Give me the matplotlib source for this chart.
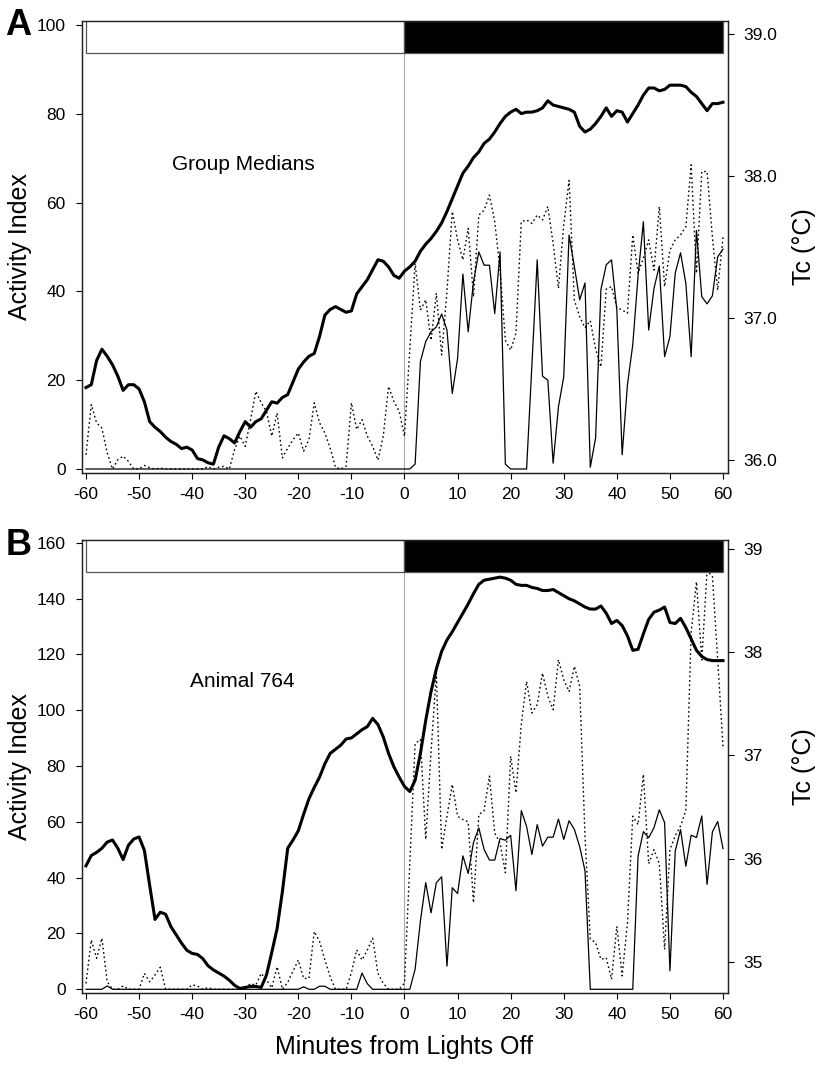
import numpy as np
import matplotlib
matplotlib.use("Agg")
import matplotlib.pyplot as plt
import matplotlib.transforms as mtransforms
from matplotlib.patches import Rectangle
from matplotlib.ticker import FormatStrFormatter

plt.rcParams['font.family'] = ['Liberation Sans', 'DejaVu Sans']

minutes = np.arange(-60, 61)

# Panel A - group medians
tc_a = [36.51, 36.53, 36.70, 36.78, 36.73, 36.67, 36.59, 36.49, 36.53, 36.53,
        36.50, 36.41, 36.27, 36.23, 36.20, 36.16, 36.13, 36.11, 36.08, 36.09,
        36.07, 36.01, 36.00, 35.98, 35.97, 36.09, 36.17, 36.15, 36.12, 36.20,
        36.27, 36.23, 36.27, 36.29, 36.35, 36.41, 36.40, 36.44, 36.46, 36.55,
        36.64, 36.69, 36.73, 36.75, 36.87, 37.02, 37.06, 37.08, 37.06, 37.04,
        37.05, 37.17, 37.22, 37.27, 37.34, 37.41, 37.40, 37.36, 37.30, 37.28,
        37.33, 37.36, 37.40, 37.47, 37.52, 37.56, 37.61, 37.67, 37.75, 37.84,
        37.93, 38.02, 38.07, 38.13, 38.17, 38.23, 38.26, 38.31, 38.37, 38.42,
        38.45, 38.47, 38.44, 38.45, 38.45, 38.46, 38.48, 38.53, 38.50, 38.49,
        38.48, 38.47, 38.45, 38.35, 38.31, 38.33, 38.37, 38.42, 38.48, 38.42,
        38.46, 38.45, 38.38, 38.44, 38.50, 38.57, 38.62, 38.62, 38.60, 38.61,
        38.64, 38.64, 38.64, 38.63, 38.59, 38.56, 38.51, 38.46, 38.51, 38.51, 38.52]

act_a_solid = [0] * 60 + [
    0, 0, 1.1, 24.2, 28.7, 30.9, 32, 34.9, 31.3, 17,
    24.9, 43.9, 30.9, 42.2, 48.9, 45.9, 45.9, 35, 48.9, 1.1,
    0, 0, 0, 0, 23.4, 47.1, 20.9, 20, 1.3, 14,
    20.8, 52.7, 45.6, 38.1, 41.9, 0.4, 7, 40.4, 46, 47.1,
    35.8, 3.2, 19, 28, 43.5, 55.7, 31.3, 40.7, 45.7, 25.3,
    29.8, 44.1, 48.7, 41.8, 25.3, 53.7, 38.8, 37.2, 39, 47.8, 49.5]

act_a_dot = [3.2, 14.5, 10.4, 9.2, 3.6, 0, 2.1, 2.9, 1.7, 0,
             0, 0.8, 0.3, 0, 0.2, 0, 0, 0, 0, 0,
             0, 0, 0, 0.5, 0, 0.4, 0.6, 0, 4.4, 7.4,
             5.1, 11.1, 17.5, 14.9, 13, 7.4, 12.6, 2.5, 4.7, 6.6,
             8.1, 4, 6.6, 14.9, 10.4, 8.1, 4.7, 0.4, 0, 0.6,
             14.9, 8.9, 11.1, 7.4, 5.1, 2, 7.4, 18.6, 15.2, 13,
             7.4, 27, 46.3, 35.8, 38.1, 29, 39.6, 25.7, 40, 58,
             51.6, 47.1, 54.2, 38.8, 57.2, 58.3, 61.7, 55.7, 44.8, 29,
             26.8, 30.6, 55.7, 56.1, 55.3, 57.2, 56.1, 59.1, 50.8, 40.7,
             55, 65, 38, 34.3, 31.8, 33.4, 27, 23, 40.5, 41.1,
             36.4, 35.8, 35.1, 52.7, 44.1, 47.5, 51.6, 44.8, 59.1, 41.1,
             49.3, 51.6, 52.7, 54.6, 68.5, 44.1, 67, 67, 52.3, 40.3, 52.3]

# Panel B - animal 764
tc_b = [35.93, 36.03, 36.06, 36.10, 36.16, 36.18, 36.10, 35.99, 36.13, 36.19,
        36.21, 36.08, 35.74, 35.41, 35.48, 35.46, 35.34, 35.26, 35.18, 35.11,
        35.08, 35.07, 35.03, 34.96, 34.92, 34.89, 34.86, 34.82, 34.77, 34.74,
        34.75, 34.76, 34.76, 34.75, 34.87, 35.09, 35.32, 35.68, 36.10, 36.18,
        36.27, 36.43, 36.58, 36.69, 36.79, 36.92, 37.02, 37.06, 37.10, 37.16,
        37.17, 37.21, 37.25, 37.28, 37.36, 37.30, 37.18, 37.02, 36.89, 36.79,
        36.70, 36.65, 36.76, 37.02, 37.34, 37.62, 37.84, 38.01, 38.12, 38.20,
        38.29, 38.38, 38.47, 38.57, 38.66, 38.70, 38.71, 38.72, 38.73, 38.72,
        38.70, 38.66, 38.65, 38.65, 38.63, 38.62, 38.60, 38.60, 38.61, 38.58,
        38.55, 38.52, 38.50, 38.47, 38.44, 38.42, 38.42, 38.45, 38.38, 38.28,
        38.31, 38.26, 38.16, 38.02, 38.03, 38.18, 38.32, 38.39, 38.41, 38.44,
        38.29, 38.28, 38.33, 38.24, 38.13, 38.02, 37.96, 37.93, 37.92, 37.92, 37.92]

act_b_solid = [0, 0, 0, 0, 1.2, 0, 0, 0, 0, 0,
               0, 0, 0, 0, 0, 0, 0, 0, 0, 0,
               0, 0, 0, 0, 0, 0, 0, 0, 0, 0,
               0, 0, 0, 0, 0, 0, 0, 0, 0, 0,
               0, 0.9, 0, 0, 1.1, 1.1, 0, 0, 0, 0,
               0, 0, 5.8, 2.0, 0, 0, 0, 0, 0, 0,
               0, 0, 7.2, 24.5, 38.2, 27.4, 38.2, 40.3, 8.3, 36.4,
               34.3, 47.8, 41.5, 52.6, 57.8, 50.1, 46.3, 46.3, 54, 53.4,
               55.2, 35.3, 64, 58.3, 48.3, 59, 51.3, 54.5, 54.5, 61,
               53.7, 60.4, 57.3, 51.1, 42.5, 0, 0, 0, 0, 0,
               0, 0, 0, 0, 47.7, 56.5, 54.3, 57.9, 64.3, 59.7,
               6.6, 49.5, 57.2, 44.1, 55.2, 54.4, 62.1, 37.6, 56.4, 60.1, 50.4]

act_b_dot = [2.1, 17.7, 11.1, 18.3, 2.7, 0, 0, 1.2, 0, 0,
             0, 5.7, 2.7, 5.1, 7.9, 0, 0, 0, 0, 0,
             1.6, 1.2, 0, 0.6, 0, 0, 0, 0, 0, 0,
             0.6, 2.0, 1.5, 5.7, 3.3, 0.5, 8.1, 0, 2.5, 6.5,
             10.5, 3.9, 3.9, 20.7, 17.1, 10.5, 4.5, 0, 0, 0,
             6, 14.1, 10.5, 14.1, 18.3, 5.7, 2.1, 0, 0, 0,
             2.2, 45, 88, 89.5, 53.7, 85, 113.3, 50.1, 62, 73.4,
             62, 60.8, 60, 31, 62.6, 64, 76.4, 56, 52.3, 41.8,
             83.5, 70.4, 95, 110.3, 99, 102, 113.3, 105, 100.2, 118.1,
             110.9, 106.7, 115.7, 108.6, 55, 18, 16.7, 10.7, 11.3, 3.6,
             22.6, 4.8, 23.8, 62, 59, 77, 45, 50, 45, 14.3,
             50, 55, 58.5, 64, 128, 146, 118, 150, 148, 118, 87]

x_ticks = list(range(-60, 61, 10))
left_ticks_a = [0, 20, 40, 60, 80, 100]
right_ticks_a = [36.0, 37.0, 38.0, 39.0]
left_ticks_b = [0, 20, 40, 60, 80, 100, 120, 140, 160]
right_ticks_b = [35, 36, 37, 38, 39]


def draw_panel(fig, rect, tc, solid, dot, left_lim, left_ticks,
               right_lim, right_ticks, right_fmt, note, note_xy, letter, letter_xy,
               show_xlabel=False):
    ax = fig.add_axes(rect)
    ax2 = ax.twinx()

    ax.plot(minutes, solid, color='black', lw=0.9)
    ax.plot(minutes, dot, color='black', lw=1.0, linestyle=(0, (1.2, 2.0)))
    ax.axvline(0, ymax=0.929, color='#a8a8a8', lw=0.8, zorder=0)
    ax2.plot(minutes, tc, color='black', lw=2.2, solid_joinstyle='round')

    ax.set_xlim(-60.75, 60.94)
    ax.set_ylim(*left_lim)
    ax2.set_ylim(*right_lim)
    ax.set_xticks(x_ticks)
    ax.set_xticklabels([str(t) for t in x_ticks])
    ax.set_yticks(left_ticks)
    ax2.set_yticks(right_ticks)
    ax2.yaxis.set_major_formatter(FormatStrFormatter(right_fmt))

    # light / dark bar along the top
    trans = mtransforms.blended_transform_factory(ax2.transData, ax2.transAxes)
    ax2.add_patch(Rectangle((-60, 0.929), 60, 0.071, transform=trans,
                            facecolor='white', edgecolor='#555555', lw=0.9))
    ax2.add_patch(Rectangle((0, 0.929), 60, 0.071, transform=trans,
                            facecolor='black', edgecolor='#555555', lw=0.9))

    for a in (ax, ax2):
        for s in a.spines.values():
            s.set_color('#222222')
            s.set_linewidth(0.9)
    ax.tick_params(axis='y', direction='out', length=4.3, width=0.8,
                   labelsize=12.5, pad=7.5)
    ax.tick_params(axis='x', direction='out', length=4.3, width=0.8,
                   labelsize=12.5, pad=6)
    ax2.tick_params(axis='y', direction='out', length=4.3, width=0.8,
                    labelsize=12.5, pad=6.5)

    ax.set_ylabel('Activity Index', fontsize=18)
    ax.yaxis.set_label_coords(-0.077, 0.5)
    ax2.set_ylabel('Tc (°C)', fontsize=18)
    ax2.yaxis.set_label_coords(1.099, 0.5)

    if show_xlabel:
        ax.set_xlabel('Minutes from Lights Off', fontsize=18)
        ax.xaxis.set_label_coords(0.4985, -0.093)

    ax.text(note_xy[0], note_xy[1], note, fontsize=15, ha='center', va='center')
    fig.text(letter_xy[0], letter_xy[1], letter, fontsize=26,
             fontweight='bold', ha='left', va='baseline')
    return ax, ax2


fig = plt.figure(figsize=(8.19, 10.69), dpi=100)

draw_panel(fig, [0.10012, 0.55753, 0.78877, 0.42283], tc_a, act_a_solid, act_a_dot,
           (-0.9, 100.9), left_ticks_a, (35.908, 39.092), right_ticks_a, '%.1f',
           'Group Medians', (-30.4, 68.5), 'A', (0.006, 0.9673))

draw_panel(fig, [0.10012, 0.07109, 0.78877, 0.42376], tc_b, act_b_solid, act_b_dot,
           (-1.33, 160.97), left_ticks_b, (34.696, 39.09), right_ticks_b, '%d',
           'Animal 764', (-30.6, 110.3), 'B', (0.007, 0.4808), show_xlabel=True)

fig.savefig('out.png', dpi=100)
